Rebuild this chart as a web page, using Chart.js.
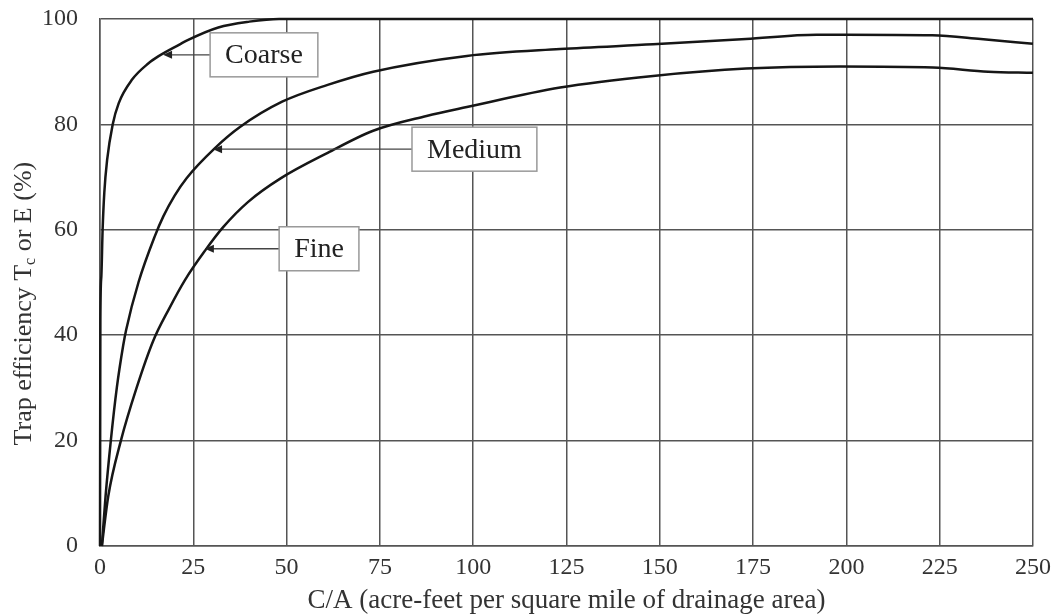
<!DOCTYPE html>
<html>
<head>
<meta charset="utf-8">
<script src="https://cdn.jsdelivr.net/npm/chart.js@4.4.1/dist/chart.umd.min.js"></script>
<style>
  html, body { margin: 0; padding: 0; background: #fff; }
  #wrap { width: 1054px; height: 614px; }
</style>
</head>
<body>
<div id="wrap"><canvas id="myChart" width="1054" height="614"></canvas></div>
<script>
// C/A values and trap efficiency
const coarseX = [0, 0.1, 0.35, 0.7, 1.15, 1.9, 3.4, 5, 8.6, 13, 15.6, 21.4, 23.2, 31.7, 40, 48, 100, 150, 200, 250];
const coarseY = [0, 43, 51, 60, 67, 73.2, 80, 84, 88.5, 91.6, 92.9, 95.2, 95.9, 98.4, 99.5, 100, 100, 100, 100, 100];

const mediumX = [0.5, 1.5, 2.9, 4.5, 6.2, 7, 10.3, 14.7, 17, 20, 23.2, 30.8, 37.5, 48.8, 61, 73.2, 98.3, 123.3, 148.2, 173.1, 192, 200, 223, 236, 250];
const mediumY = [0, 9.5, 20, 30, 38, 41, 50, 58.8, 62.6, 66.5, 69.8, 75.5, 79.5, 84.3, 87.5, 90, 93, 94.3, 95.2, 96.2, 97, 97, 96.9, 96.2, 95.3];

const fineX = [0.5, 2.2, 5.6, 9.8, 14.3, 18.5, 22.8, 28.1, 33, 39.7, 48.5, 61, 73.2, 87.5, 98.3, 123.3, 148.2, 173.1, 198.3, 223.2, 238, 250];
const fineY = [0, 9.4, 20, 30, 39, 45, 50.5, 56, 60.5, 65.3, 69.8, 74.6, 78.8, 81.6, 83.3, 87, 89.2, 90.6, 91, 90.8, 90, 89.8];

// curve labels: arrow tip (data coords) and left edge of the label box
const curveLabels = ["Coarse", "Medium", "Fine"];
const arrowTipX = [16.9, 30.3, 28.1];
const arrowTipY = [93.2, 75.3, 56.4];
const boxLeftX = [29.5, 83.6, 48.0];

const xTitle = "C/A (acre-feet per square mile of drainage area)";

function pts(xs, ys) {
  return xs.map((x, i) => ({ x: x, y: ys[i] }));
}

const serif = "'Liberation Serif', 'Times New Roman', serif";
const gridCol = "#555";

function curve(xs, ys) {
  return {
    data: pts(xs, ys),
    borderColor: "#161616",
    borderWidth: 2.5,
    pointRadius: 0,
    fill: false,
    cubicInterpolationMode: "monotone",
    clip: false
  };
}

const labelPlugin = {
  id: "curveLabels",
  afterDatasetsDraw(chart) {
    const ctx = chart.ctx;
    const xs = chart.scales.x, ys = chart.scales.y;
    ctx.save();
    ctx.font = "28px " + serif;
    curveLabels.forEach((txt, i) => {
      const tx = xs.getPixelForValue(arrowTipX[i]);
      const ty = ys.getPixelForValue(arrowTipY[i]);
      const bx = xs.getPixelForValue(boxLeftX[i]);
      const tw = ctx.measureText(txt).width;
      const bw = tw + 30, bh = 44;
      // leader line + arrow head
      ctx.strokeStyle = "#444";
      ctx.lineWidth = 1.3;
      ctx.beginPath();
      ctx.moveTo(bx, ty);
      ctx.lineTo(tx + 4, ty);
      ctx.stroke();
      ctx.fillStyle = "#222";
      ctx.beginPath();
      ctx.moveTo(tx, ty);
      ctx.lineTo(tx + 9, ty - 4);
      ctx.lineTo(tx + 9, ty + 4);
      ctx.closePath();
      ctx.fill();
      // box
      ctx.fillStyle = "#fff";
      ctx.fillRect(bx, ty - bh / 2, bw, bh);
      ctx.strokeStyle = "#999";
      ctx.lineWidth = 1.5;
      ctx.strokeRect(bx, ty - bh / 2, bw, bh);
      ctx.fillStyle = "#222";
      ctx.textAlign = "center";
      ctx.textBaseline = "middle";
      ctx.fillText(txt, bx + bw / 2, ty + 1);
    });
    ctx.restore();
  }
};

// y title drawn by hand for the subscript c
const yTitlePlugin = {
  id: "yTitle",
  afterDraw(chart) {
    const ctx = chart.ctx;
    const cy = chart.scales.y.getPixelForValue(46);
    const big = "26px " + serif, small = "16px " + serif;
    const a = "Trap efficiency T", b = "c", c = " or E (%)";
    ctx.save();
    ctx.font = big;
    const wa = ctx.measureText(a).width, wc = ctx.measureText(c).width;
    ctx.font = small;
    const wb = ctx.measureText(b).width;
    const total = wa + wb + wc;
    ctx.translate(24, cy);
    ctx.rotate(-Math.PI / 2);
    ctx.fillStyle = "#333";
    ctx.textBaseline = "middle";
    ctx.textAlign = "left";
    let x0 = -total / 2;
    ctx.font = big;
    ctx.fillText(a, x0, 0);
    ctx.font = small;
    ctx.fillText(b, x0 + wa, 7);
    ctx.font = big;
    ctx.fillText(c, x0 + wa + wb, 0);
    ctx.restore();
  }
};

new Chart("myChart", {
  type: "line",
  data: {
    datasets: [
      curve(coarseX, coarseY),
      curve(mediumX, mediumY),
      curve(fineX, fineY)
    ]
  },
  plugins: [labelPlugin, yTitlePlugin],
  options: {
    responsive: false,
    animation: false,
    devicePixelRatio: 1,
    layout: { padding: { top: 19, right: 21, left: 0, bottom: 0 } },
    plugins: {
      legend: { display: false },
      tooltip: { enabled: false }
    },
    scales: {
      x: {
        type: "linear",
        min: 0,
        max: 250,
        ticks: { stepSize: 25, padding: 7, color: "#333", font: { family: serif, size: 24 } },
        grid: { color: gridCol, lineWidth: 1.5, drawTicks: false },
        border: { color: gridCol, width: 1.5 },
        title: {
          display: true,
          text: xTitle,
          color: "#333",
          font: { family: serif, size: 27, lineHeight: 1.0 },
          padding: { top: 0, bottom: 0 }
        },
        afterFit: s => { s.height = 68; s.paddingLeft = 0; s.paddingRight = 0; }
      },
      y: {
        min: 0,
        max: 100,
        ticks: { stepSize: 20, padding: 22, color: "#333", font: { family: serif, size: 24 } },
        grid: { color: gridCol, lineWidth: 1.5, drawTicks: false },
        border: { color: gridCol, width: 1.5 },
        afterFit: s => { s.width = 100; s.paddingTop = 0; s.paddingBottom = 0; }
      }
    }
  }
});
</script>
</body>
</html>
